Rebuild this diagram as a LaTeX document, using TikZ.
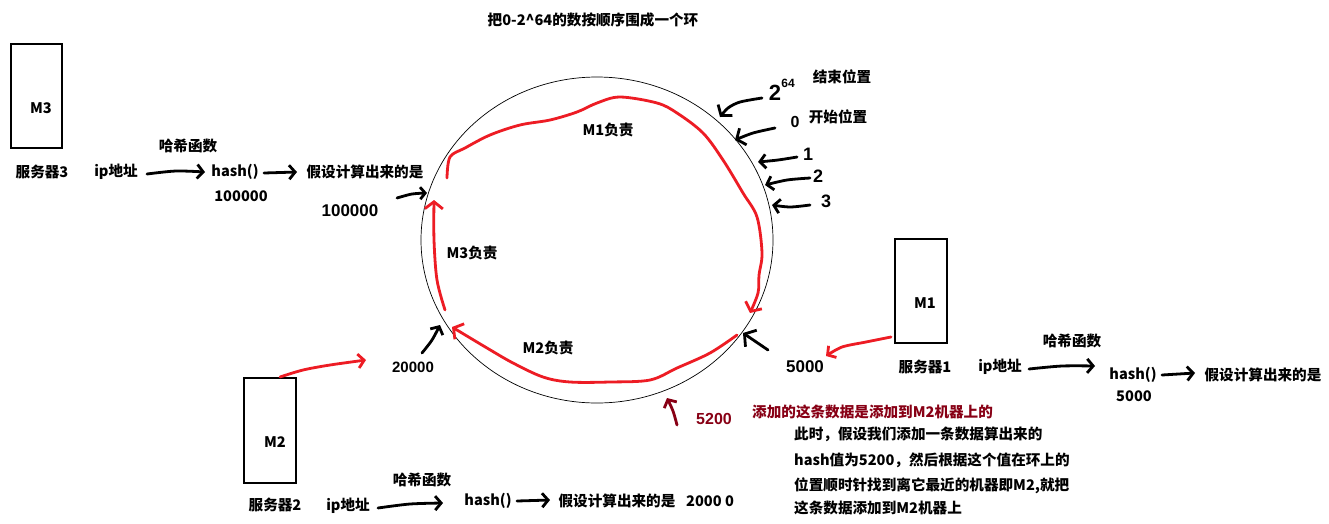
\documentclass[tikz,border=0pt]{standalone}
\usepackage{fontspec}
\setmainfont{Noto Sans CJK SC}
\newfontfamily\handfont{Liberation Sans}
\usetikzlibrary{arrows.meta,shapes.geometric}
\definecolor{penred}{HTML}{ED1C24}
\definecolor{inkred}{HTML}{880015}
\tikzset{
  lbl/.style={font=\bfseries\fontsize{14.6}{16}\selectfont, inner sep=0pt},
  handnum/.style={font=\handfont\bfseries\fontsize{#1}{#1}\selectfont, inner sep=0pt},
  server/.style={draw, line width=1.2pt, inner sep=0pt},
  pen/.style={line width=2.8pt, line cap=round, line join=round,
    -{Straight Barb[length=6pt,width=14pt]}},
  redpen/.style={pen, draw=penred},
  inkpen/.style={pen, draw=inkred},
}
\begin{document}
\begin{tikzpicture}[x=1pt,y=-1pt]
\useasboundingbox (0,0) rectangle (1329,523);
\fill[white] (0,0) rectangle (1329,523);

% title
\node[lbl] (title) at (593,20) {把0-2\textasciicircum64的数按顺序围成一个环};

% the hash ring
\node[ellipse, draw, line width=0.7pt, minimum width=352pt, minimum height=326pt, inner sep=0pt] (ring) at (597,240) {};

% servers
\node[server, minimum width=51pt, minimum height=104pt] (box3) at (36.5,96) {};
\node[lbl] (m3) at (41,108) {M3};
\node[server, minimum width=52pt, minimum height=105pt] (box2) at (270,430.5) {};
\node[lbl] (m2) at (275,442) {M2};
\node[server, minimum width=52pt, minimum height=104pt] (box1) at (921,291) {};
\node[lbl] (m1) at (925,303) {M1};

% server 3 row
\node[lbl] (srv3) at (42,172) {服务器3};
\node[lbl] (ip3) at (116,172) {ip地址};
\node[lbl] (fn3) at (188,146) {哈希函数};
\node[lbl] (hash3) at (235,172) {hash()};
\node[lbl] (val3) at (241,196) {100000};
\node[lbl] (res3) at (365,172) {假设计算出来的是};
\draw[pen] plot[smooth] coordinates {(147,174) (176,171) (205,172)};
\draw[pen] plot[smooth] coordinates {(264,173) (297,172)};

% server 1 row
\node[lbl] (srv1) at (925,367) {服务器1};
\node[lbl] (ip1) at (1000,367) {ip地址};
\node[lbl] (fn1) at (1072,341) {哈希函数};
\node[lbl] (hash1) at (1133,375) {hash()};
\node[lbl] (val1) at (1134,396) {5000};
\node[lbl] (res1) at (1263,375) {假设计算出来的是};
\draw[pen] plot[smooth] coordinates {(1029,369) (1062,366) (1095,366)};
\draw[pen] plot[smooth] coordinates {(1162,375) (1195,373)};

% server 2 row
\node[lbl] (srv2) at (275,505) {服务器2};
\node[lbl] (ip2) at (348,506) {ip地址};
\node[lbl] (fn2) at (422,480) {哈希函数};
\node[lbl] (hash2) at (488,501) {hash()};
\node[lbl] (res2) at (617,501) {假设计算出来的是};
\node[lbl] (val2) at (710,501) {2000 0};
\draw[pen] plot[smooth] coordinates {(378,508) (410,504) (443,503)};
\draw[pen] plot[smooth] coordinates {(517,501) (550,500)};

% ranges each server is responsible for
\node[lbl] (r1) at (608,130) {M1负责};
\node[lbl] (r3) at (472,253) {M3负责};
\node[lbl] (r2) at (548,348) {M2负责};
\draw[redpen, -{Straight Barb[length=7pt,width=18pt]}] plot[smooth, tension=0.55] coordinates {
  (447,178) (450,157) (465,148) (490,135) (520,125) (550,120) (577,112) (597,103)
  (620,97) (657,103) (677,113) (703,133) (723,160) (743,193) (757,217) (762,253)
  (759,275) (758,293) (750,313)};
\draw[redpen, -{Straight Barb[length=7pt,width=18pt]}] plot[smooth, tension=0.55] coordinates {
  (737,335) (710,353) (677,368) (650,380) (610,382) (570,382) (543,377) (513,363)
  (487,348) (452,327)};
\draw[redpen, -{Straight Barb[length=7pt,width=18pt]}] plot[smooth, tension=0.55] coordinates {
  (445,310) (437,280) (434,240) (434,200)};

% positions on the ring
\node[handnum=22] (two) at (775,93) {2};
\node[handnum=12] (exp) at (788,83) {64};
\node[lbl] (endpos) at (842,77) {结束位置};
\node[handnum=16] (zero) at (795,122) {0};
\node[lbl] (startpos) at (838,117) {开始位置};
\node[handnum=18] (one) at (808,154) {1};
\node[handnum=18] (twob) at (818,176) {2};
\node[handnum=18] (three) at (826,201) {3};
\draw[pen, -{Straight Barb[length=7pt,width=18pt]}] plot[smooth] coordinates {(762,98) (740,102) (728,108) (720,117)};
\draw[pen, -{Straight Barb[length=7pt,width=18pt]}] plot[smooth] coordinates {(775,128) (753,133) (735,140)};
\draw[pen] plot[smooth] coordinates {(797,157) (778,160) (758,162)};
\draw[pen] plot[smooth] coordinates {(810,178) (787,180) (765,185)};
\draw[pen] plot[smooth] coordinates {(810,205) (790,207) (772,205)};

% server hashes placed on the ring
\node[handnum=17] (h3) at (350,211) {100000};
\draw[pen, -{Straight Barb[length=5pt,width=12pt]}] plot[smooth] coordinates {(397,198) (412,194) (427,193)};

\node[handnum=15] (h2) at (413,367) {20000};
\draw[pen] plot[smooth] coordinates {(422,353) (432,340) (440,325)};
\coordinate (b2top) at (280,377);
\draw[redpen] plot[smooth] coordinates {(b2top) (303,370) (330,365) (366,360)};

\node[handnum=17] (h1) at (805,367) {5000};
\draw[pen, -{Straight Barb[length=8pt,width=20pt]}] (768,350) -- (743,333);
\coordinate (b1side) at (891,337);
\draw[redpen] plot[smooth] coordinates {(b1side) (866,342) (842,347) (826,356)};

% the new data item
\node[handnum=16, text=inkred] (h5200) at (714,419) {5200};
\draw[inkpen] plot[smooth] coordinates {(677,425) (673,411) (667,398)};

% explanation
\node[lbl, text=inkred, anchor=west] (note) at (752,412) {添加的这条数据是添加到M2机器上的};
\node[lbl, anchor=west] (l1) at (794,434) {此时，假设我们添加一条数据算出来的};
\node[lbl, anchor=west] (l2) at (794,460) {hash值为5200，然后根据这个值在环上的};
\node[lbl, anchor=west] (l3) at (794,486) {位置顺时针找到离它最近的机器即M2,就把};
\node[lbl, anchor=west] (l4) at (794,508) {这条数据添加到M2机器上};
\end{tikzpicture}
\end{document}
